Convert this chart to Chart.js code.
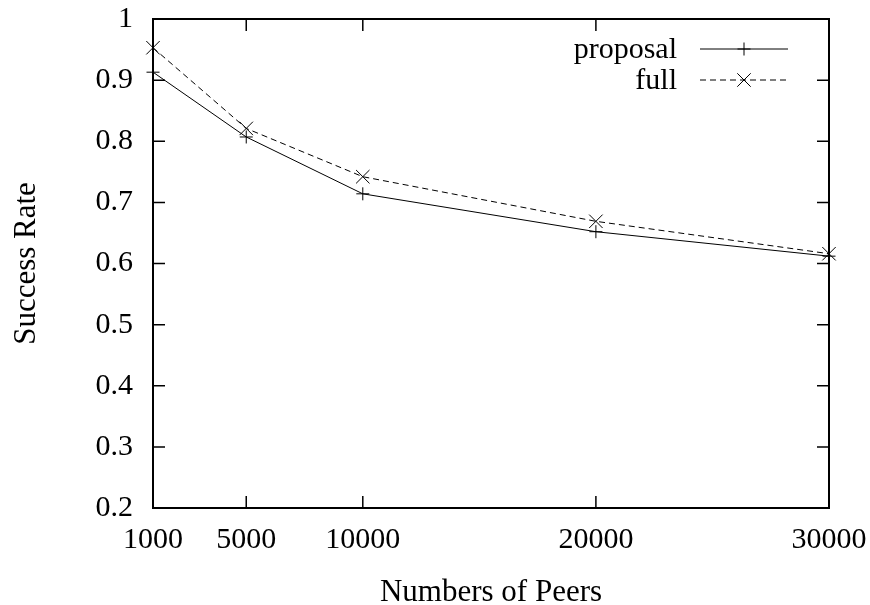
<!DOCTYPE html>
<html>
<head>
<meta charset="utf-8">
<script src="https://cdn.jsdelivr.net/npm/chart.js@4/dist/chart.umd.min.js"></script>
<style>
  html, body { margin: 0; padding: 0; background: #fff; }
  canvas { display: block; }
</style>
</head>
<body>
<canvas id="peersChart" width="870" height="605"></canvas>
<script>
// values
const peers = [1000, 5000, 10000, 20000, 30000];
const proposal = [0.913, 0.807, 0.714, 0.652, 0.612];
const full = [0.953, 0.821, 0.742, 0.669, 0.616];
const yTicks = [0.2, 0.3, 0.4, 0.5, 0.6, 0.7, 0.8, 0.9, 1];

const serif = '"Liberation Serif", "DejaVu Serif", serif';

// gnuplot style frame: inward ticks, mirrored on top and right, legend inside
const gnuplotFrame = {
    id: 'gnuplotFrame',
    afterDatasetsDraw(chart) {
        const ctx = chart.ctx;
        const a = chart.chartArea;
        const x = chart.scales.x;
        const y = chart.scales.y;
        const tl = 12;
        ctx.save();
        ctx.strokeStyle = '#000';
        ctx.lineWidth = 2;
        ctx.strokeRect(a.left, a.top, a.right - a.left, a.bottom - a.top);

        ctx.lineWidth = 1.5;
        ctx.beginPath();
        peers.forEach(v => {
            const px = x.getPixelForValue(v);
            ctx.moveTo(px, a.bottom); ctx.lineTo(px, a.bottom - tl);
            ctx.moveTo(px, a.top); ctx.lineTo(px, a.top + tl);
        });
        yTicks.forEach(v => {
            const py = y.getPixelForValue(v);
            ctx.moveTo(a.left, py); ctx.lineTo(a.left + tl, py);
            ctx.moveTo(a.right, py); ctx.lineTo(a.right - tl, py);
        });
        ctx.stroke();

        // legend
        ctx.font = '30px ' + serif;
        ctx.textAlign = 'right';
        ctx.textBaseline = 'middle';
        ctx.fillStyle = '#000';
        const textX = 677, lineX0 = 700, lineX1 = 788;
        chart.data.datasets.forEach((ds, i) => {
            const ly = 49 + i * 31;
            ctx.fillText(ds.label, textX, ly + 1);
            ctx.lineWidth = 1;
            ctx.setLineDash(ds.borderDash || []);
            ctx.beginPath();
            ctx.moveTo(lineX0, ly); ctx.lineTo(lineX1, ly);
            ctx.stroke();
            ctx.setLineDash([]);
            const r = ds.pointRadius;
            const mx = (lineX0 + lineX1) / 2;
            ctx.beginPath();
            if (ds.pointStyle === 'cross') {
                ctx.moveTo(mx - r, ly); ctx.lineTo(mx + r, ly);
                ctx.moveTo(mx, ly - r); ctx.lineTo(mx, ly + r);
            } else {
                const d = r * Math.SQRT1_2;
                ctx.moveTo(mx - d, ly - d); ctx.lineTo(mx + d, ly + d);
                ctx.moveTo(mx - d, ly + d); ctx.lineTo(mx + d, ly - d);
            }
            ctx.stroke();
        });
        ctx.restore();
    }
};

new Chart(document.getElementById('peersChart'), {
    type: 'line',
    data: {
        datasets: [{
            label: 'proposal',
            data: peers.map((p, i) => ({ x: p, y: proposal[i] })),
            borderColor: '#000',
            borderWidth: 1,
            pointStyle: 'cross',
            pointRadius: 6.5,
            pointBorderWidth: 1,
            pointBorderColor: '#000',
            tension: 0,
            clip: false
        }, {
            label: 'full',
            data: peers.map((p, i) => ({ x: p, y: full[i] })),
            borderColor: '#000',
            borderWidth: 1,
            borderDash: [6, 4],
            pointStyle: 'crossRot',
            pointRadius: 9.5,
            pointBorderWidth: 1,
            pointBorderColor: '#000',
            tension: 0,
            clip: false
        }]
    },
    options: {
        responsive: false,
        animation: false,
        devicePixelRatio: 1,
        layout: { padding: { top: 19, right: 41, left: 0, bottom: 0 } },
        plugins: {
            legend: { display: false },
            tooltip: { enabled: false }
        },
        scales: {
            x: {
                type: 'linear',
                min: 1000,
                max: 30000,
                afterBuildTicks: s => { s.ticks = peers.map(v => ({ value: v })); },
                afterFit: s => {
                    s.height = 97;
                    s.paddingLeft = 0;
                    s.paddingRight = 0;
                },
                grid: { display: false, drawTicks: false },
                border: { display: false },
                ticks: {
                    color: '#000',
                    font: { family: serif, size: 30 },
                    padding: 14,
                    maxRotation: 0,
                    autoSkip: false,
                    callback: v => String(v)
                },
                title: {
                    display: true,
                    text: 'Numbers of Peers',
                    color: '#000',
                    font: { family: serif, size: 31, lineHeight: 0.8 },
                    padding: { top: 0, bottom: 0 }
                }
            },
            y: {
                min: 0.2,
                max: 1,
                afterBuildTicks: s => { s.ticks = yTicks.map(v => ({ value: v })); },
                afterFit: s => {
                    s.width = 153;
                    s.paddingTop = 0;
                    s.paddingBottom = 0;
                },
                grid: { display: false, drawTicks: false },
                border: { display: false },
                ticks: {
                    color: '#000',
                    font: { family: serif, size: 30 },
                    padding: 20,
                    callback: v => String(+v.toFixed(1))
                },
                title: {
                    display: true,
                    text: 'Success Rate',
                    color: '#000',
                    font: { family: serif, size: 31 },
                    padding: { top: 8, bottom: 0 }
                }
            }
        }
    },
    plugins: [gnuplotFrame]
});
</script>
</body>
</html>
